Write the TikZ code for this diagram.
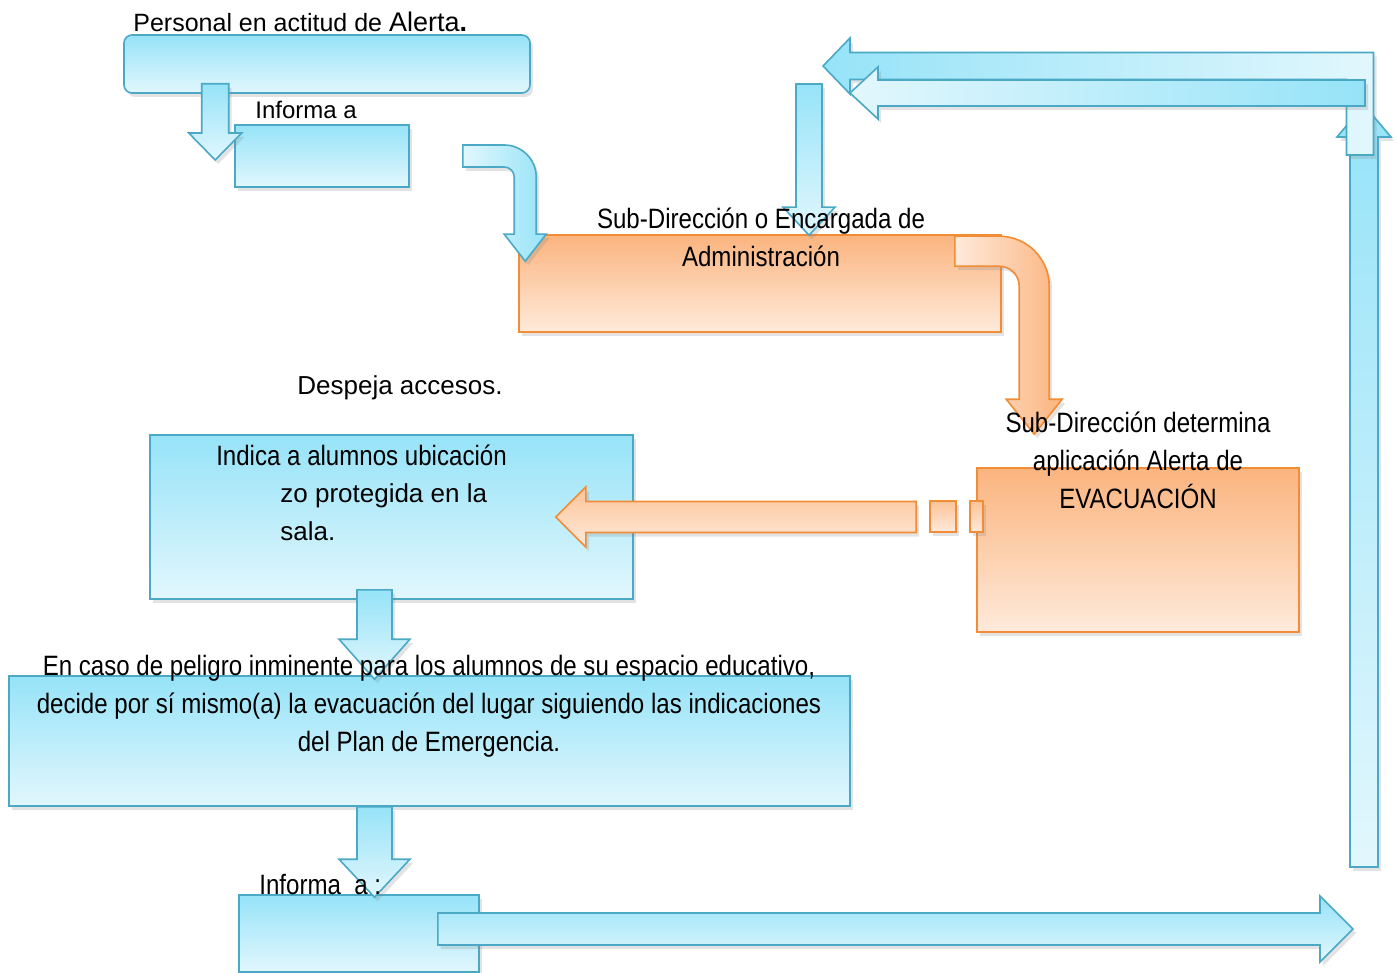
\documentclass[tikz,border=0pt]{standalone}
\usepackage{fontspec}
\setmainfont{Liberation Sans}
\newfontfamily\narrowfont{Liberation Sans}[FakeStretch=0.86]
\usetikzlibrary{calc,shadows}

\definecolor{bluetop}{HTML}{96E3F8}
\definecolor{bluebot}{HTML}{E2F7FD}
\definecolor{blueline}{HTML}{4BA9C6}
\definecolor{orangetop}{HTML}{FBB47E}
\definecolor{orangebot}{HTML}{FEEADB}
\definecolor{orangeline}{HTML}{F28C36}

\tikzset{
  fatw/.store in=\fatw, fath/.store in=\fath, fatl/.store in=\fatl,
  bendr/.store in=\bendr,
  fatw=6.5pt, fath=13pt, fatl=14pt, bendr=10pt,
  % straight block arrow, start -> tip
  fat/.style={to path={let \p1=(\tikztostart), \p2=(\tikztotarget),
      \n1={atan2(\y2-\y1,\x2-\x1)}, \n2={veclen(\x2-\x1,\y2-\y1)} in
      {[shift={(\p1)},rotate=\n1]
        (0pt,-\fatw) -- (\n2-\fatl,-\fatw) -- (\n2-\fatl,-\fath) -- (\n2,0pt)
        -- (\n2-\fatl,\fath) -- (\n2-\fatl,\fatw) -- (0pt,\fatw) -- cycle}}},
  % block arrow going right, then bending down
  bent/.style={to path={let \p1=(\tikztostart), \p2=(\tikztotarget) in
      (\x1,\y1+\fatw) -- (\x2-\bendr,\y1+\fatw)
      arc[start angle=90,end angle=0,radius=\bendr+\fatw]
      -- (\x2+\fatw,\y2+\fatl) -- (\x2+\fath,\y2+\fatl) -- (\x2,\y2)
      -- (\x2-\fath,\y2+\fatl) -- (\x2-\fatw,\y2+\fatl) -- (\x2-\fatw,\y1-\bendr)
      arc[start angle=0,end angle=90,radius=\bendr-\fatw]
      -- (\x1,\y1-\fatw) -- cycle}},
  % block arrow going up, then left
  elbow/.style={to path={let \p1=(\tikztostart), \p2=(\tikztotarget) in
      (\x1-\fatw,\y1) -- (\x1-\fatw,\y2-\fatw) -- (\x2+\fatl,\y2-\fatw)
      -- (\x2+\fatl,\y2-\fath) -- (\x2,\y2) -- (\x2+\fatl,\y2+\fath)
      -- (\x2+\fatl,\y2+\fatw) -- (\x1+\fatw,\y2+\fatw) -- (\x1+\fatw,\y1) -- cycle}}
}

\begin{document}
\begin{tikzpicture}[x=0.5pt,y=-0.5pt,
    shade/.style={drop shadow={opacity=0.22,shadow xshift=1.5pt,shadow yshift=-2pt}},
    bluebox/.style={draw=blueline, line width=0.8pt, top color=bluetop,
      bottom color=bluebot, inner sep=0pt, shade},
    orangebox/.style={draw=orangeline, line width=0.8pt, top color=orangetop,
      bottom color=orangebot, inner sep=0pt, shade},
    bluearrow/.style={draw=blueline, line width=0.8pt, shade},
    orangearrow/.style={draw=orangeline, line width=0.8pt, shade},
    lbl/.style={inner sep=0pt, align=center, font=\narrowfont\fontsize{14}{19}\selectfont},
    wide/.style={inner sep=0pt, font=\fontsize{13}{19}\selectfont}]
  \useasboundingbox (0,0) rectangle (1398,973);

  \coordinate (admS) at (809,84);
  \coordinate (sendT) at (1353,929);
  \coordinate (backS) at (1364,867);
  \coordinate (backT) at (1364,105);
  \coordinate (topS) at (1360,155);
  \coordinate (topT) at (823,66);
  \coordinate (retS) at (1365,93);
  \coordinate (retT) at (850,93);

  % personal -> informa
  \node[bluebox, rounded corners=4pt, minimum width=203pt, minimum height=29pt] (A) at (327,64) {};
  \node[bluebox, minimum width=87pt, minimum height=31pt] (B) at (322,156) {};
  \draw[bluearrow, top color=bluetop, bottom color=bluebot, fatw=6.75pt, fath=13.25pt, fatl=13.5pt]
    ($(A.south west)+(92,-10)$) to[fat] ($(B.west)+(-19,4)$);

  % loop on the right
  \draw[bluearrow, top color=bluetop, bottom color=bluebot, fatw=7pt, fath=13.5pt, fatl=16pt]
    (backS) to[fat] (backT);
  \draw[bluearrow, left color=bluetop, right color=bluebot, fatw=6.75pt, fath=14pt, fatl=13.5pt]
    (topS) to[elbow] (topT);
  \draw[bluearrow, left color=bluebot, right color=bluetop, fatw=6.5pt, fath=13pt, fatl=14pt]
    (retS) to[fat] (retT);

  % administracion
  \node[orangebox, minimum width=241pt, minimum height=48.5pt] (C) at (760,283.5) {};
  \draw[bluearrow, left color=bluebot, right color=bluetop, fatw=5.5pt, fath=10.5pt, fatl=13.5pt, bendr=10.5pt]
    ($(B.east)+(53,0)$) to[bent] ($(C.north west)+(7,27)$);
  \draw[bluearrow, top color=bluetop, bottom color=bluebot]
    (admS) to[fat] ($(C.north)+(49,1)$);

  % evacuacion
  \node[bluebox, minimum width=241.5pt, minimum height=82pt] (E) at (391.5,517) {};
  \node[orangebox, minimum width=161pt, minimum height=82pt] (D) at (1138,550) {};
  \draw[orangearrow, left color=orangebot, right color=orangetop, fatw=7.5pt, fath=14pt, fatl=17.5pt, bendr=17.5pt]
    ($(C.north east)+(-47,17)$) to[bent] ($(D.north west)+(58,-33)$);
  \draw[orangearrow, top color=orangetop!80, bottom color=orangebot, fatw=7.75pt, fath=15pt, fatl=15pt]
    ($(D.west)+(-60,-33)$) to[fat] ($(E.east)+(-78,0)$);
  \draw[orangearrow, top color=orangetop!80, bottom color=orangebot]
    ($(D.west)+(-46,-49)$) rectangle ++(26,31);
  \draw[orangearrow, top color=orangetop!80, bottom color=orangebot]
    ($(D.west)+(-6,-49)$) rectangle ++(13,31);

  % peligro inminente
  \node[bluebox, minimum width=420.5pt, minimum height=65pt] (F) at (429.5,741) {};
  \draw[bluearrow, top color=bluetop, bottom color=bluebot, fatw=8.75pt, fath=17.75pt, fatl=20pt]
    ($(E.south)+(-17,-10)$) to[fat] ($(F.north)+(-55,4)$);

  \node[bluebox, minimum width=120pt, minimum height=38.5pt] (G) at (359,933.5) {};
  \draw[bluearrow, top color=bluetop, bottom color=bluebot, fatw=8.75pt, fath=17.75pt, fatl=19pt]
    (F.south -| E.south) ++(-17,0) to[fat] ($(G.north)+(15.5,3)$);
  \draw[bluearrow, top color=bluetop, bottom color=bluebot, fatw=8pt, fath=16.5pt, fatl=16.5pt]
    ($(G.east)+(-42,-4.5)$) to[fat] (sendT);

  % texts
  \node[wide, anchor=west, font=\fontsize{12.5}{15}\selectfont] (lA) at (133,22)
    {Personal en actitud de {\fontsize{13.5}{15}\selectfont Alerta\textbf{.}}};
  \node[wide, anchor=west, font=\fontsize{12}{15}\selectfont] (lB) at (255,110) {Informa a};
  \node[lbl] (lC) at (761,237) {Sub-Dirección o Encargada de\\Administración};
  \node[wide] (lX) at (400,388) {Despeja accesos.};
  \node[lbl] (lD) at (1138,460) {Sub-Dirección determina\\aplicación Alerta de\\EVACUACIÓN};
  \node[lbl] (lE) at (361.5,455) {Indica a alumnos ubicación};
  \node[wide, anchor=west, align=left] (lE2) at (280,512) {zo protegida en la\\sala.};
  \node[lbl] (lF) at (429,706) {En caso de peligro inminente para los alumnos de su espacio educativo,\\decide por sí mismo(a) la evacuación del lugar siguiendo las indicaciones\\del Plan de Emergencia.};
  \node[lbl, anchor=west] (lG) at (259,884) {Informa~ a :};
\end{tikzpicture}
\end{document}
